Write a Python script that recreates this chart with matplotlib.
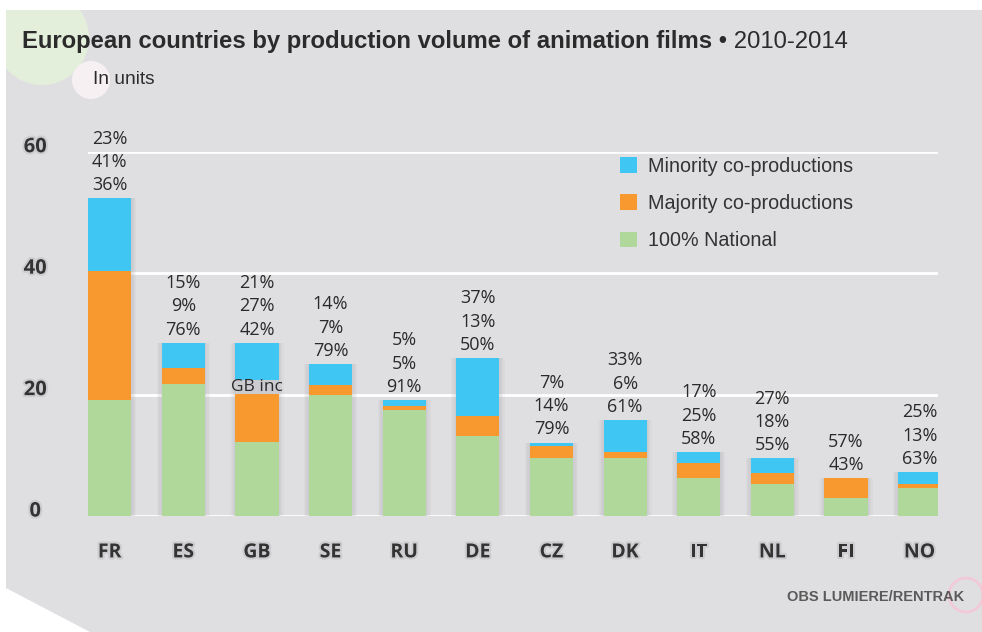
# coding=utf-8
# European countries by production volume of animation films, 2010-2014

import matplotlib.pyplot as plt
import matplotlib.patheffects as pe
from matplotlib.patches import Polygon, Ellipse
from matplotlib.transforms import ScaledTranslation

# 数据
countries = ['FR', 'ES', 'GB', 'SE', 'RU', 'DE', 'CZ', 'DK', 'IT', 'NL', 'FI', 'NO']
national = [19.1, 21.7, 12.2, 20.0, 17.4, 13.1, 9.5, 9.5, 6.2, 5.2, 3.0, 4.6]
majority = [21.3, 2.6, 7.9, 1.6, 0.7, 3.4, 2.0, 1.0, 2.6, 1.9, 3.2, 0.6]
unknown = [0, 0, 2.3, 0, 0, 0, 0, 0, 0, 0, 0, 0]
minority = [11.9, 4.2, 6.1, 3.4, 1.0, 9.5, 0.6, 5.3, 1.7, 2.4, 0, 2.0]
pct_minority = ['23%', '15%', '21%', '14%', '5%', '37%', '7%', '33%', '17%', '27%', '', '25%']
pct_majority = ['41%', '9%', '27%', '7%', '5%', '13%', '14%', '6%', '25%', '18%', '57%', '13%']
pct_national = ['36%', '76%', '42%', '79%', '91%', '50%', '79%', '61%', '58%', '55%', '43%', '63%']
yticks = [0, 20, 40, 60]

C_MIN = '#3fc6f2'
C_MAJ = '#f7992f'
C_NAT = '#b0d89a'
BG = '#dfdfe2'

W, H = 982, 632
fig = plt.figure(figsize=(W / 100, H / 100), dpi=100)
fig.patch.set_facecolor('white')

# 灰色背景
bg = Polygon([(6 / W, 1 - 10 / H), (1, 1 - 10 / H), (1, 0), (90 / W, 0), (6 / W, 1 - 588 / H)],
             closed=True, transform=fig.transFigure, facecolor=BG, edgecolor='none', zorder=-3)
fig.patches.append(bg)
green = Ellipse((42 / W, 1 - 38 / H), 94 / W, 94 / H, transform=fig.transFigure,
                facecolor='#e3efdb', edgecolor='none', zorder=-2)
green.set_clip_path(bg)
fig.patches.append(green)
fig.patches.append(Ellipse((91 / W, 1 - 80 / H), 38 / W, 38 / H, transform=fig.transFigure,
                           facecolor='#f6f0f2', edgecolor='none', zorder=-1))
fig.patches.append(Ellipse((966 / W, 1 - 595 / H), 34 / W, 34 / H, transform=fig.transFigure,
                           facecolor='none', edgecolor='#f2c9d6', lw=2, zorder=-1))

ax = fig.add_axes([88 / W, 1 - 516 / H, 850 / W, (516 - 151.7) / H])
ax.patch.set_alpha(0)
ax.set_xlim(-0.295, 11.25)
ax.set_ylim(0, 60)
for s in ax.spines.values():
    s.set_visible(False)

for v in yticks:
    ax.axhline(v, color='white', lw=2, zorder=1)

x = list(range(len(countries)))
bw = 0.585
totals = [n + m + u + mi for n, m, u, mi in zip(national, majority, unknown, minority)]

# 柱子阴影
for k in range(1, 5):
    ax.bar(x, totals, width=bw + 0.035 * k, color='#9a9aa0', alpha=0.07, zorder=1.5)

ax.bar(x, national, width=bw, color=C_NAT, zorder=2, label='100% National')
ax.bar(x, majority, width=bw, bottom=national, color=C_MAJ, zorder=2,
       label='Majority co-productions')
bottom_min = [n + m + u for n, m, u in zip(national, majority, unknown)]
ax.bar(x, minority, width=bw, bottom=bottom_min, color=C_MIN, zorder=2,
       label='Minority co-productions')

shadow = [pe.withStroke(linewidth=3, foreground='#cdcdd1')]

# 百分比标签
for i in x:
    lines = [p for p in (pct_minority[i], pct_majority[i], pct_national[i]) if p]
    ax.annotate('\n'.join(lines), (i, totals[i]), xytext=(0, 3), textcoords='offset points',
                ha='center', va='bottom', fontsize=13, family='Open Sans', color='#2a2a2a',
                linespacing=1.38, annotation_clip=False, zorder=3)

gb = countries.index('GB')
ax.text(gb, national[gb] + majority[gb] + unknown[gb] / 2, 'GB inc', ha='center', va='center',
        fontsize=12.5, family='Open Sans', color='#2a2a2a', zorder=3)

ax.set_xticks(x)
ax.set_xticklabels(countries, family='Open Sans', fontweight='bold', fontsize=14,
                   color='#333333', path_effects=shadow)
ax.tick_params(axis='x', length=0, pad=19)
ax.set_yticks(yticks)
ax.set_yticklabels([str(v) for v in yticks], family='Open Sans', fontweight='bold',
                   fontsize=14.5, color='#333333', path_effects=shadow)
ax.tick_params(axis='y', length=0, pad=38)
up = ScaledTranslation(0, 5 / 72, fig.dpi_scale_trans)
for lab in ax.get_yticklabels():
    lab.set_horizontalalignment('center')
    lab.set_transform(lab.get_transform() + up)

h, l = ax.get_legend_handles_labels()
leg = ax.legend(h[::-1], l[::-1], loc='upper left', bbox_to_anchor=(620 / W, 1 - 157 / H),
                bbox_transform=fig.transFigure, frameon=False, borderpad=0, borderaxespad=0,
                handlelength=0.86, handleheight=0.86, handletextpad=0.55, labelspacing=0.92,
                prop={'family': 'Liberation Sans', 'size': 14.2})
for t in leg.get_texts():
    t.set_color('#333333')

# 标题
t1 = fig.text(22 / W, 1 - 48 / H, 'European countries by production volume of animation films',
              family='Liberation Sans', fontweight='bold', fontsize=17.2, color='#2b2b2b',
              va='baseline')
t2 = fig.text(0, 1 - 48 / H, ' \u2022 2010-2014', family='Liberation Sans', fontsize=17.2,
              color='#2b2b2b', va='baseline', ha='left')
fig.canvas.draw()
bb = t1.get_window_extent(fig.canvas.get_renderer())
t2.set_x(bb.x1 / W)
fig.text(93 / W, 1 - 79 / H, 'In units', family='Liberation Sans', fontsize=13.8,
         color='#2b2b2b', va='center')
fig.text(964 / W, 1 - 597 / H, 'OBS LUMIERE/RENTRAK', family='Liberation Sans',
         fontweight='bold', fontsize=10.5, color='#5a5a5a', ha='right', va='center')

fig.savefig('out.png', dpi=100, facecolor=fig.get_facecolor())
